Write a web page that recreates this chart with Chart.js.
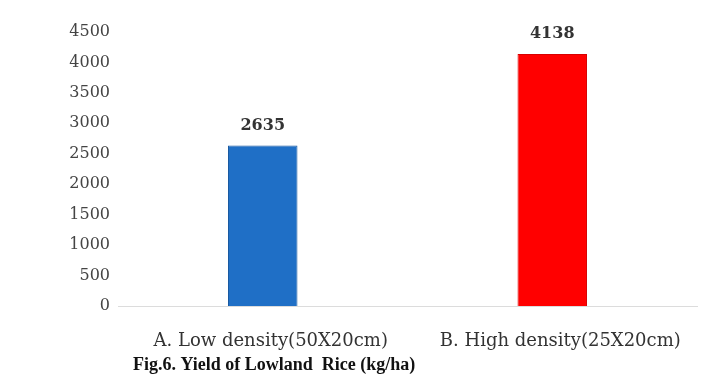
<!DOCTYPE html>
<html>
<head>
<meta charset="utf-8">
<script src="https://cdn.jsdelivr.net/npm/chart.js@4/dist/chart.umd.min.js"></script>
<style>
  html, body { margin: 0; padding: 0; background: #fff; }
  .js-wrap { width: 723px; height: 385px; }
</style>
</head>
<body>
<div class="js-wrap"><canvas id="yieldChart" width="723" height="385"></canvas></div>
<script>
const categories = ["A. Low density(50X20cm)", "B. High density(25X20cm)"];
const yieldValues = [2635, 4138];
const barColors = ["#1f6fc6", "#ff0000"];
const yTicks = [0, 500, 1000, 1500, 2000, 2500, 3000, 3500, 4000, 4500];
const caption = "Fig.6. Yield of Lowland  Rice (kg/ha)";

const serif = "'DejaVu Serif', 'Liberation Serif', serif";
const times = "'Liberation Serif', serif";

// value labels above each bar
const valueLabels = {
  id: "valueLabels",
  afterDatasetsDraw(chart) {
    const ctx = chart.ctx;
    const meta = chart.getDatasetMeta(0);
    ctx.save();
    ctx.font = "bold 16px " + serif;
    ctx.fillStyle = "#333";
    ctx.textAlign = "center";
    ctx.textBaseline = "middle";
    meta.data.forEach(function (bar, i) {
      ctx.fillText(yieldValues[i], bar.x, bar.y - 20);
    });
    ctx.restore();
  }
};

// caption under the axis
const captionText = {
  id: "captionText",
  afterDraw(chart) {
    const ctx = chart.ctx;
    ctx.save();
    ctx.font = "bold 18px " + times;
    ctx.fillStyle = "#111";
    ctx.textAlign = "left";
    ctx.textBaseline = "middle";
    ctx.fillText(caption, 133, 365);
    ctx.restore();
  }
};

const drawChart = function () {
  const ctx = document.getElementById("yieldChart").getContext("2d");
  const config = {
    type: "bar",
    data: {
      labels: categories,
      datasets: [
        {
          data: yieldValues,
          backgroundColor: barColors,
          borderColor: ["#1858a0", "#d80000"],
          borderWidth: 1,
          categoryPercentage: 1,
          barPercentage: 0.24
        }
      ]
    },
    options: {
      responsive: false,
      animation: false,
      layout: { padding: { top: 32, right: 26, bottom: 0, left: 0 } },
      scales: {
        x: {
          grid: { display: false },
          border: { display: true, color: "#dcdcdc", width: 1 },
          ticks: {
            color: "#333",
            font: { family: serif, size: 18 },
            padding: 17,
            labelOffset: 8,
            maxRotation: 0,
            autoSkip: false
          },
          afterFit: function (scale) { scale.height = 79; }
        },
        y: {
          min: 0,
          max: 4500,
          grid: { display: false },
          border: { display: false },
          afterBuildTicks: function (scale) {
            scale.ticks = yTicks.map(function (v) { return { value: v }; });
          },
          ticks: {
            color: "#444",
            font: { family: serif, size: 16 },
            padding: 0,
            callback: function (v) { return String(v); }
          },
          afterFit: function (scale) { scale.width = 118; }
        }
      },
      plugins: {
        legend: { display: false },
        title: { display: false },
        tooltip: { enabled: false }
      }
    },
    plugins: [valueLabels, captionText]
  };
  new Chart(ctx, config);
};

document.addEventListener("DOMContentLoaded", function () {
  drawChart();
});
</script>
</body>
</html>
